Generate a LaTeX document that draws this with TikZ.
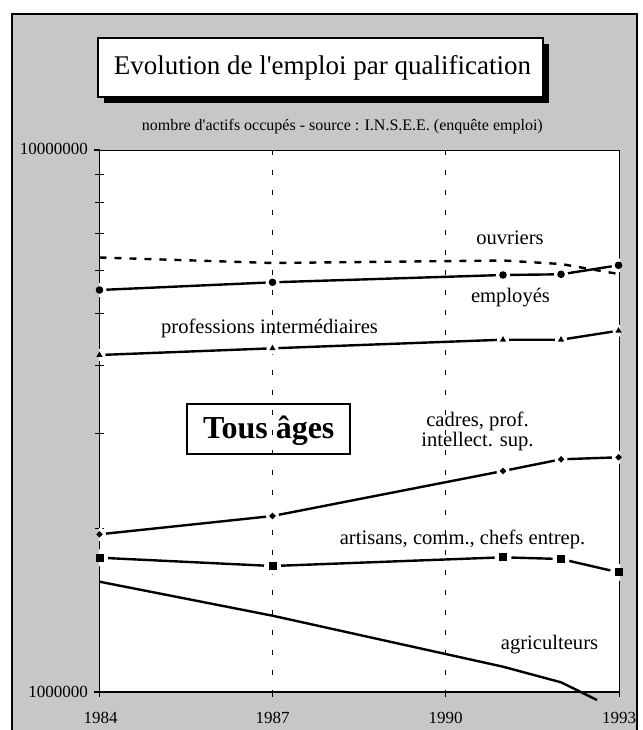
\documentclass[tikz,border=0pt]{standalone}
\usepackage{fontspec}
\setmainfont{Liberation Serif}
\begin{document}
\begin{tikzpicture}[x=1pt,y=-1pt,
  bgfill/.style={fill=black!22},
  gridline/.style={line width=0.8pt, dash pattern=on 5pt off 15pt},
  serie/.style={line width=2.4pt, line join=round},
  lbl/.style={font=\fontsize{20.6}{19}\selectfont, inner sep=0pt, anchor=base},
  axlbl/.style={font=\fontsize{17}{18}\selectfont, inner sep=0pt}
]
\useasboundingbox (0,0) rectangle (642,730);
\clip (0,0) rectangle (642,730);
\fill[white] (0,0) rectangle (642,730);
% outer frame with dotted-gray background
\fill[bgfill] (12,14) rectangle (637,760);
\draw[line width=2pt] (12,14) rectangle (637,760);

% title box with shadow
\fill[black] (104,44) rectangle (549,103);
\filldraw[fill=white, draw=black, line width=1.2pt] (98,38) rectangle (543,97);
\node[font=\fontsize{27}{30}\selectfont, inner sep=0pt] (title) at (322.5,67.5) {Evolution de l\textquotesingle{}emploi par qualification};

% subtitle
\node[font=\fontsize{16}{18}\selectfont, inner sep=0pt] (subtitle) at (342.3,126.7) {nombre d\textquotesingle{}actifs occupés - source : I.N.S.E.E. (enquête emploi)};

% plot area
\fill[white] (99.5,150) rectangle (619,692);
\draw[gridline] (272.5,150) -- (272.5,692);
\draw[gridline] (445.5,150) -- (445.5,692);
\draw[line width=0.8pt] (99.5,150) -- (619,150) -- (619,692);
\draw[line width=1.2pt] (94,150) -- (99.5,150) -- (99.5,692) -- (619,692);
\draw[line width=1.2pt] (94,692) -- (99.5,692);
\foreach \k in {2,...,9} {
  \draw[line width=1pt] (95,{692-542*log10(\k)}) -- (103.5,{692-542*log10(\k)});
}
\foreach \xx in {99.5,272.5,445.5,619} {
  \draw[line width=1pt] (\xx,692) -- (\xx,697);
}

% axis labels
\node[axlbl, anchor=east] (ytop) at (88,149) {10000000};
\node[axlbl, anchor=east] (ybot) at (88,691.7) {1000000};
\node[axlbl] (x1984) at (100.5,718) {1984};
\node[axlbl] (x1987) at (272.5,718) {1987};
\node[axlbl] (x1990) at (445.5,718) {1990};
\node[axlbl] (x1993) at (619,718) {1993};

% "Tous âges" box
\draw[line width=1.2pt] (187,404) rectangle (350,454);
\node[font=\bfseries\fontsize{32}{34}\selectfont, inner sep=0pt, anchor=base] (tous) at (268.8,438.5) {Tous âges};

% data coordinates
\coordinate (o1) at (99.5,257.5); \coordinate (o2) at (272.5,263); \coordinate (o3) at (503,260.5); \coordinate (o4) at (561,264); \coordinate (o5) at (618.5,274);
\coordinate (e1) at (99.5,290); \coordinate (e2) at (272.5,282.3); \coordinate (e3) at (503,275); \coordinate (e4) at (561,274.3); \coordinate (e5) at (618.5,265.3);
\coordinate (p1) at (99.5,355); \coordinate (p2) at (272.5,348.3); \coordinate (p3) at (503,339.7); \coordinate (p4) at (561,339.7); \coordinate (p5) at (618.5,330.7);
\coordinate (c1) at (99.5,534.3); \coordinate (c2) at (272.5,516); \coordinate (c3) at (503,471); \coordinate (c4) at (561,459.3); \coordinate (c5) at (618.5,457.3);
\coordinate (a1) at (99.5,557.7); \coordinate (a2) at (272.5,566); \coordinate (a3) at (503,557.3); \coordinate (a4) at (561,559); \coordinate (a5) at (618.5,572.3);
\coordinate (g1) at (99.5,581.7); \coordinate (g2) at (272.5,615.7); \coordinate (g3) at (503,666.7); \coordinate (g4) at (561,682.3); \coordinate (g5) at (597,700);

% series lines
\draw[serie, dash pattern=on 7pt off 8pt] (o1) -- (o2) -- (o3) -- (o4) -- (o5);
\draw[serie] (e1) -- (e2) -- (e3) -- (e4) -- (e5);
\draw[serie] (p1) -- (p2) -- (p3) -- (p4) -- (p5);
\draw[serie] (c1) -- (c2) -- (c3) -- (c4) -- (c5);
\draw[serie] (a1) -- (a2) -- (a3) -- (a4) -- (a5);
\draw[serie] (g1) -- (g2) -- (g3) -- (g4) -- (g5);

% white halos round the markers
\begin{scope}
  \clip (99,150) rectangle (620,692);
  \foreach \p in {e1,e2,e3,e4,e5} { \fill[white] (\p) circle (7); }
  \foreach \p in {p1,p2,p3,p4,p5} { \fill[white] (\p) circle (6); }
  \foreach \p in {c1,c2,c3,c4,c5} { \fill[white] (\p) circle (6.5); }
  \foreach \p in {a1,a2,a3,a4,a5} { \fill[white] (\p) circle (8.5); }
\end{scope}
% markers
\foreach \p in {e1,e2,e3,e4,e5} { \fill (\p) circle (3.8); }
\foreach \p in {p1,p2,p3,p4,p5} { \fill (\p) ++(0,-3.6) -- ++(3.1,5.4) -- ++(-6.2,0) -- cycle; }
\foreach \p in {c1,c2,c3,c4,c5} { \fill (\p) ++(0,-3.3) -- ++(3.3,3.3) -- ++(-3.3,3.3) -- ++(-3.3,-3.3) -- cycle; }
\foreach \p in {a1,a2,a3,a4,a5} { \fill (\p) ++(-4,-4) rectangle ++(8,8); }

% series labels
\node[lbl] (louv) at (510,244) {ouvriers};
\node[lbl] (lemp) at (510.5,302.5) {employés};
\node[lbl] (lpro) at (269.5,333.3) {professions intermédiaires};
\node[lbl] (lcad1) at (477.5,426) {cadres, prof.};
\node[lbl] (lcad2) at (477.5,446) {intellect. sup.};
\node[lbl] (lart) at (462.5,544.5) {artisans, comm., chefs entrep.};
\node[lbl] (lagr) at (549.5,649) {agriculteurs};
\end{tikzpicture}
\end{document}
